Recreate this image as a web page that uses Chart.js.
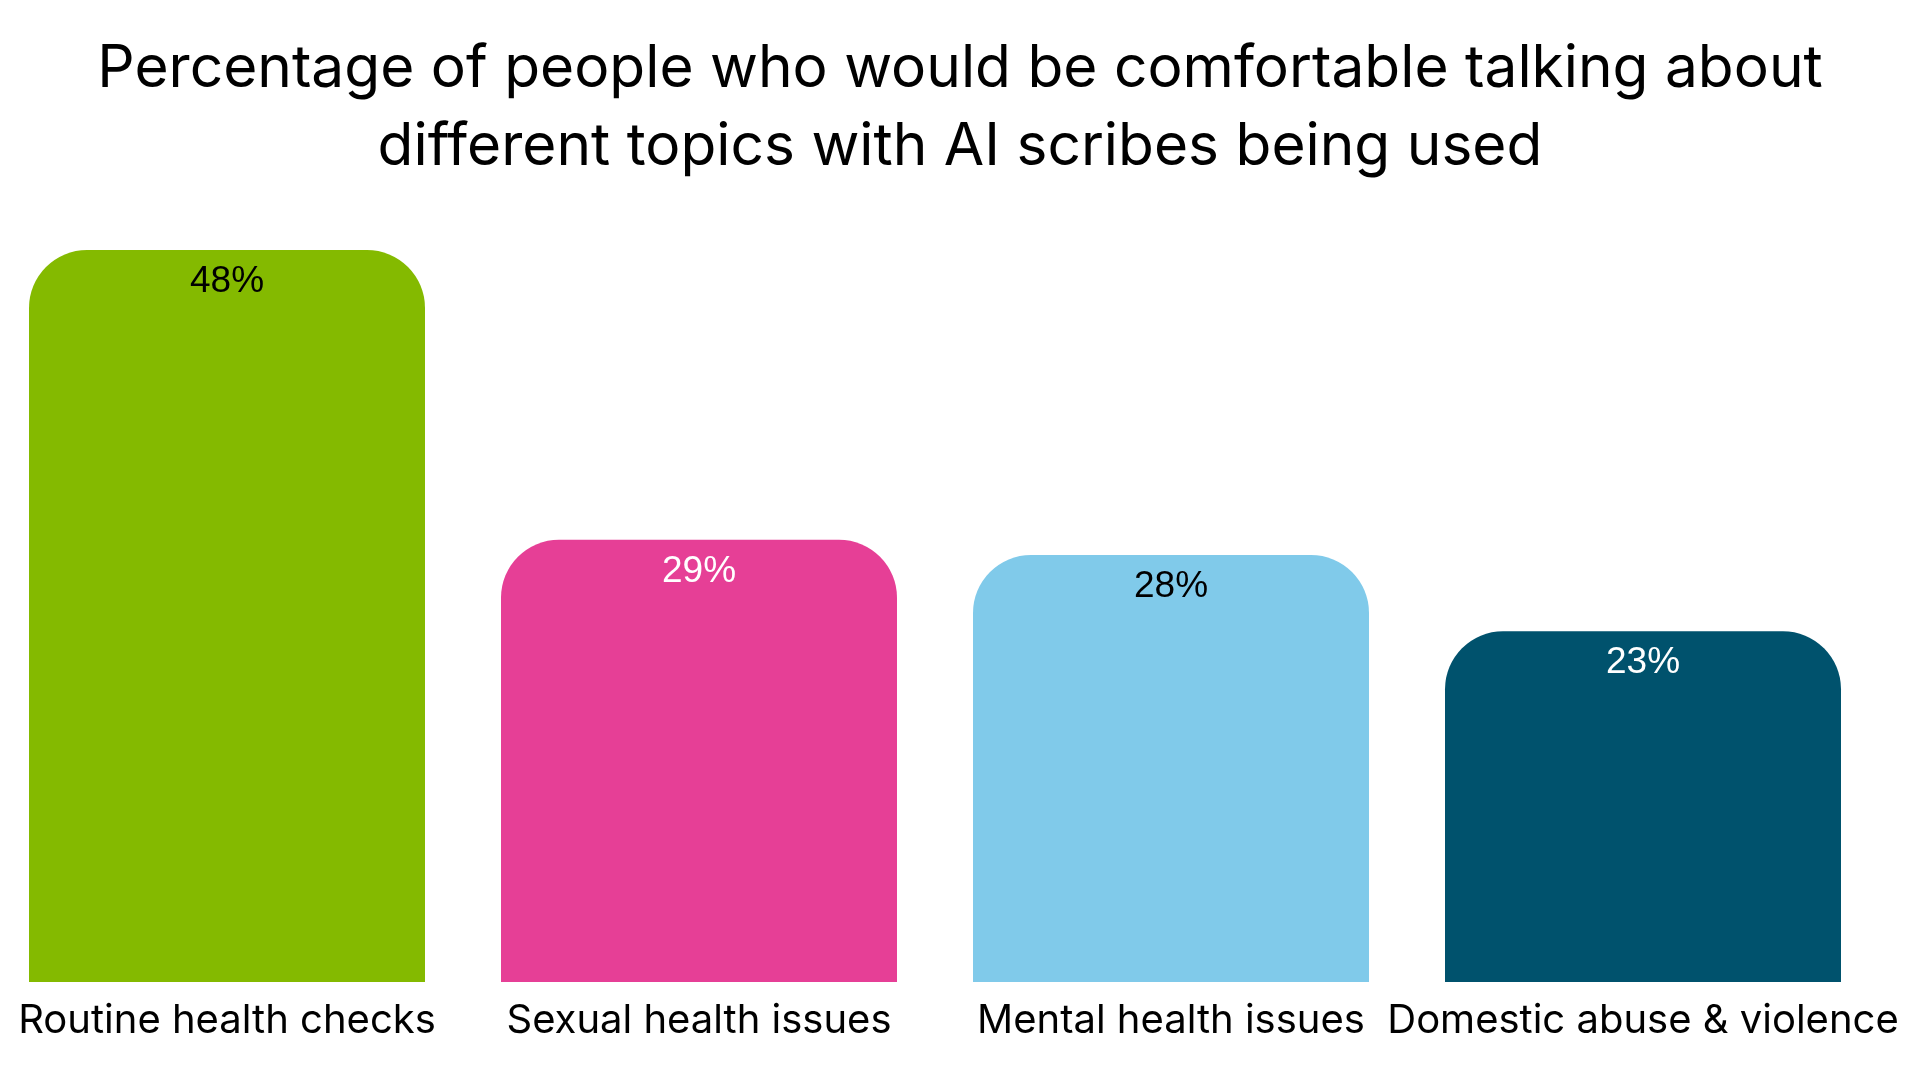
<!DOCTYPE html>
<html>
<head>
<meta charset="utf-8">
<script src="https://cdn.jsdelivr.net/npm/chart.js@4.4.1/dist/chart.umd.min.js"></script>
<style>
  html, body { margin: 0; padding: 0; background: #ffffff; overflow: hidden; }
  #wrap { position: absolute; left: -9px; top: 0; width: 1938px; height: 1080px; }
</style>
</head>
<body>
<div id="wrap"><canvas id="c"></canvas></div>
<script>
const categories = ["Routine health checks", "Sexual health issues", "Mental health issues", "Domestic abuse & violence"];
const values = [48, 29, 28, 23];
const valueLabels = ["48%", "29%", "28%", "23%"];
const barColors = ["#84BA00", "#E63F96", "#80CAEA", "#00526D"];
const labelColors = ["#000000", "#ffffff", "#000000", "#ffffff"];
const titleLines = ["Percentage of people who would be comfortable talking about", "different topics with AI scribes being used"];

const TITLE_FONT = "Inter, 'Noto Sans', sans-serif";
const VALUE_FONT = "'Liberation Sans', Arial, sans-serif";

const valueLabelPlugin = {
  id: 'valueLabels',
  afterDatasetsDraw(chart) {
    const ctx = chart.ctx;
    const meta = chart.getDatasetMeta(0);
    ctx.save();
    ctx.font = "37px " + VALUE_FONT;
    ctx.textAlign = 'center';
    ctx.textBaseline = 'alphabetic';
    meta.data.forEach((bar, i) => {
      ctx.fillStyle = labelColors[i];
      ctx.fillText(valueLabels[i], bar.x, bar.y + 42);
    });
    ctx.restore();
  }
};

const chart = new Chart(document.getElementById('c'), {
  type: 'bar',
  data: {
    labels: categories,
    datasets: [{
      data: values,
      backgroundColor: barColors,
      borderWidth: 0,
      borderSkipped: 'bottom',
      borderRadius: { topLeft: 58, topRight: 58, bottomLeft: 0, bottomRight: 0 },
      barPercentage: 1.0,
      categoryPercentage: 396 / 472
    }]
  },
  options: {
    responsive: true,
    maintainAspectRatio: false,
    animation: false,
    layout: { padding: 0 },
    plugins: {
      legend: { display: false },
      tooltip: { enabled: false },
      title: {
        display: true,
        text: titleLines,
        color: '#000000',
        font: { family: TITLE_FONT, size: 58.6, weight: '400', lineHeight: 78 / 58.6 },
        padding: { top: 30, bottom: 64 }
      }
    },
    scales: {
      x: {
        grid: { display: false },
        border: { display: false },
        ticks: {
          color: '#000000',
          font: { family: TITLE_FONT, size: 40, weight: '400' },
          maxRotation: 0, minRotation: 0, autoSkip: false, padding: 7
        },
        afterFit(scale) { scale.height = 98; }
      },
      y: {
        display: false,
        min: 0, max: 48
      },
      y2: {
        position: 'right',
        display: true,
        grid: { display: false },
        border: { display: false },
        ticks: { display: false },
        afterFit(scale) { scale.width = 50; }
      }
    }
  },
  plugins: [valueLabelPlugin]
});
</script>
</body>
</html>
